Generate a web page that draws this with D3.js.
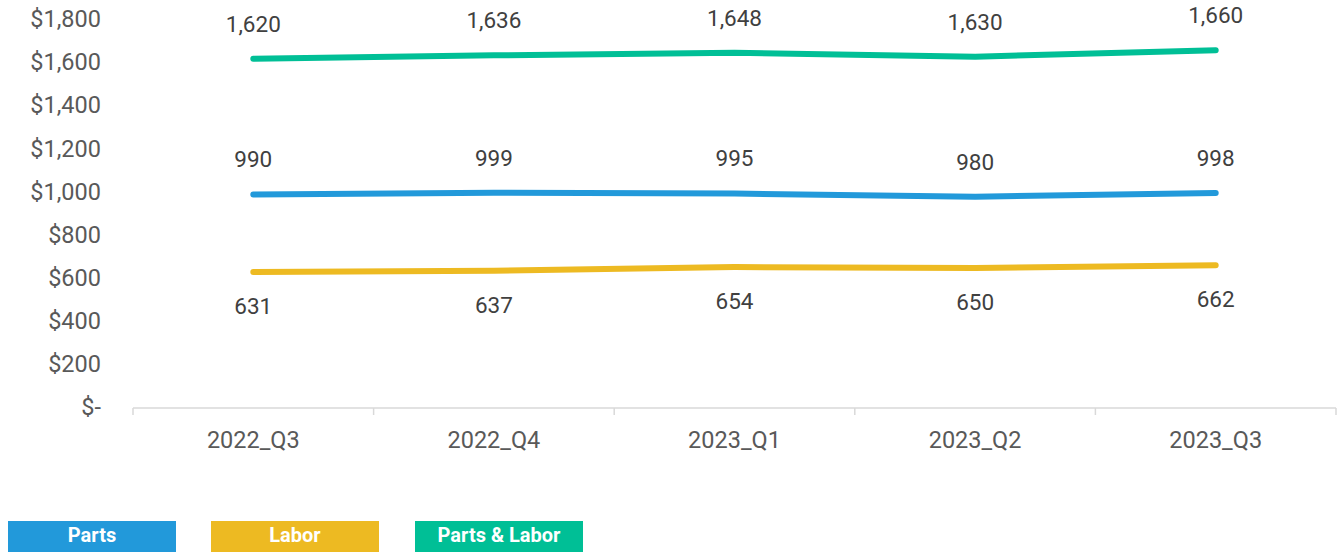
<!DOCTYPE html>
<html>
<head>
<meta charset="utf-8">
<script src="https://cdn.jsdelivr.net/npm/d3@7"></script>
<style>
  body { margin: 0; background: #fff; }
  svg { display: block; font-family: Roboto, "Noto Sans", sans-serif; }
</style>
</head>
<body>
<script>
// dati del grafico
var quarters = ["2022_Q3", "2022_Q4", "2023_Q1", "2023_Q2", "2023_Q3"];
var parts = [990, 999, 995, 980, 998];
var labor = [631, 637, 654, 650, 662];
var partsLabor = [1620, 1636, 1648, 1630, 1660];
var yTicks = [0, 200, 400, 600, 800, 1000, 1200, 1400, 1600, 1800];

var seriesNames = ["Parts", "Labor", "Parts & Labor"];
var colour = ["#2299DA", "#EDBA22", "#00BF96"];

var totalWidth = 1338, totalHeight = 552;
var margin = {top: 20, right: 2, bottom: 144, left: 133};
var width = totalWidth - margin.left - margin.right;
var height = 408 - margin.top;

var svg = d3.select("body").append("svg")
  .attr("width", totalWidth)
  .attr("height", totalHeight);

var g = svg.append("g")
  .attr("transform", "translate(" + margin.left + "," + margin.top + ")");

var x = d3.scaleBand().domain(quarters).range([0, width]);
var y = d3.scaleLinear().domain([0, 1800]).range([height, 0]);

// etichette asse y
g.selectAll(".ylab").data(yTicks).enter().append("text")
  .attr("class", "ylab")
  .attr("x", -32)
  .attr("y", function(d) { return y(d) - 1; })
  .attr("dy", "0.35em")
  .attr("text-anchor", "end")
  .attr("font-size", "23.5px")
  .attr("fill", "#595959")
  .text(function(d) { return d === 0 ? "$-" : "$" + d3.format(",")(d); });

// asse x
var ax = g.append("g").attr("transform", "translate(0," + height + ")");
ax.append("line").attr("x1", 0).attr("x2", width).attr("stroke", "#d9d9d9").attr("stroke-width", 1.5);
var bounds = quarters.map(function(q) { return x(q); }).concat([width]);
ax.selectAll(".tk").data(bounds).enter().append("line")
  .attr("x1", function(d) { return d; }).attr("x2", function(d) { return d; })
  .attr("y1", 0).attr("y2", 7)
  .attr("stroke", "#d9d9d9").attr("stroke-width", 1.5);
ax.selectAll(".xlab").data(quarters).enter().append("text")
  .attr("x", function(d) { return x(d) + x.bandwidth() / 2; })
  .attr("y", 32)
  .attr("dy", "0.35em")
  .attr("text-anchor", "middle")
  .attr("font-size", "23.5px")
  .attr("fill", "#595959")
  .text(function(d) { return d; });

// linee
var allSeries = [parts, labor, partsLabor];
var line = d3.line()
  .x(function(d, i) { return x(quarters[i]) + x.bandwidth() / 2; })
  .y(function(d) { return y(d); });

allSeries.forEach(function(s, k) {
  g.append("path")
    .datum(s)
    .attr("d", line)
    .attr("fill", "none")
    .attr("stroke", colour[k])
    .attr("stroke-width", 6)
    .attr("stroke-linecap", "round")
    .attr("stroke-linejoin", "round");

  // etichette dei valori: Labor sotto, le altre sopra
  var off = k === 1 ? 34 : -35;
  g.selectAll(".lab" + k).data(s).enter().append("text")
    .attr("x", function(d, i) { return x(quarters[i]) + x.bandwidth() / 2; })
    .attr("y", function(d) { return y(d) + off; })
    .attr("dy", "0.35em")
    .attr("text-anchor", "middle")
    .attr("font-size", "22.5px")
    .attr("fill", "#404040")
    .text(function(d) { return d3.format(",")(d); });
});

// legenda
var legendX = [8, 211, 415];
var leg = svg.selectAll(".leg").data(seriesNames).enter().append("g")
  .attr("transform", function(d, i) { return "translate(" + legendX[i] + ",521)"; });
leg.append("rect")
  .attr("width", 168).attr("height", 31)
  .attr("fill", function(d, i) { return colour[i]; });
leg.append("text")
  .attr("x", 84).attr("y", 14).attr("dy", "0.35em")
  .attr("text-anchor", "middle")
  .attr("font-size", "20px")
  .attr("font-weight", "bold")
  .attr("fill", "#fff")
  .text(function(d) { return d; });
</script>
</body>
</html>
